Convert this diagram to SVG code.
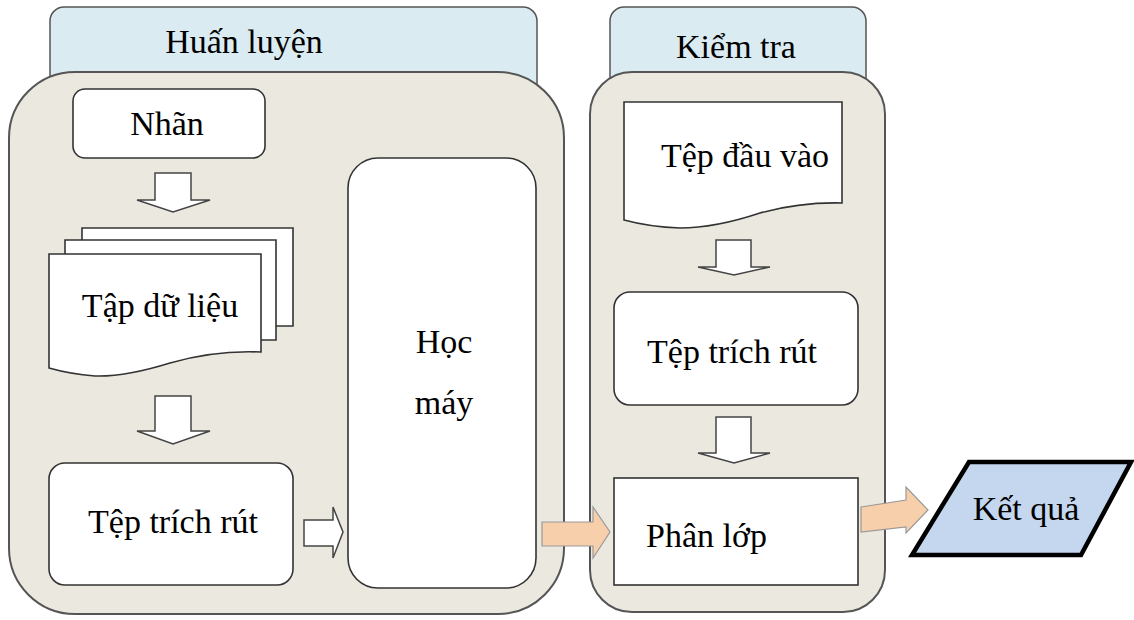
<svg xmlns="http://www.w3.org/2000/svg" width="1134" height="620" viewBox="0 0 1134 620">
<style>
.hdr{fill:#daecf2;stroke:#555;stroke-width:1.5}
.cont{fill:#ebe9df;stroke:#555;stroke-width:2}
.box{fill:#fff;stroke:#333;stroke-width:1.6}
.harrow{fill:#fff;stroke:#444;stroke-width:1.5;stroke-linejoin:miter}
.parrow{fill:#f8cfab;stroke:#999;stroke-width:1.2}
.t{font-family:'Liberation Serif','Times New Roman',Times,'DejaVu Serif',serif;font-size:34px;fill:#000}
.c{text-anchor:middle}
</style>
<rect width="1134" height="620" fill="#fff"/>
<g id="huan-luyen">
<rect class="hdr" x="50" y="7" width="487" height="110" rx="14"/>
<rect class="cont" x="9" y="72" width="555" height="542" rx="66"/>
<text class="t c" x="244" y="53" font-family="Liberation Serif, serif">Huấn luyện</text>
</g>
<g id="kiem-tra">
<rect class="hdr" x="610" y="7" width="256" height="110" rx="14"/>
<rect class="cont" x="590" y="72" width="295" height="540" rx="42"/>
<text class="t c" x="736" y="58" font-family="Liberation Serif, serif">Kiểm tra</text>
</g>
<g id="nhan">
<rect class="box" x="73" y="89" width="192" height="69" rx="12"/>
<text class="t c" x="167" y="135" font-family="Liberation Serif, serif">Nhãn</text>
</g>
<g id="tap-du-lieu">
<path class="box" d="M82,228 H293 V326 H82 Z"/>
<path class="box" d="M65,240 H276 V340 H65 Z"/>
<path class="box" d="M49,254 H261 V352 Q215,350 170,363 Q125,377 95,376 Q70,374 49,368 Z"/>
<text class="t c" x="160" y="317" font-family="Liberation Serif, serif">Tập dữ liệu</text>
</g>
<g id="tep-trich-rut-1">
<rect class="box" x="49" y="463" width="244" height="122" rx="16"/>
<text class="t c" x="173" y="533" font-family="Liberation Serif, serif">Tệp trích rút</text>
</g>
<g id="hoc-may">
<rect class="box" x="348" y="158" width="188" height="430" rx="30"/>
<text class="t c" x="444" y="353" font-family="Liberation Serif, serif">Học</text>
<text class="t c" x="444" y="414" font-family="Liberation Serif, serif">máy</text>
</g>
<g id="tep-dau-vao">
<path class="box" d="M624,102 H842 V203 Q800,202 760,213 Q715,228 680,228 Q650,227 624,220 Z"/>
<text class="t c" x="745" y="167" font-family="Liberation Serif, serif">Tệp đầu vào</text>
</g>
<g id="tep-trich-rut-2">
<rect class="box" x="614" y="292" width="244" height="113" rx="16"/>
<text class="t c" x="732" y="363" font-family="Liberation Serif, serif">Tệp trích rút</text>
</g>
<g id="phan-lop">
<rect class="box" x="614" y="478" width="244" height="107"/>
<text class="t" x="646" y="547" font-family="Liberation Serif, serif">Phân lớp</text>
</g>
<g id="ket-qua">
<polygon points="969,462 1131,462 1081,555 912,555" fill="#c5d7ee" stroke="#000" stroke-width="4.5" stroke-linejoin="miter"/>
<text class="t c" x="1026" y="520" font-family="Liberation Serif, serif">Kết quả</text>
</g>
<g id="connectors">
<polygon class="harrow" points="155,173 191,173 191,200 210,200 173,212 137,200 155,200"/>
<polygon class="harrow" points="155,396 191,396 191,431 210,431 173,444 137,431 155,431"/>
<polygon class="harrow" points="716,240 751,240 751,267 770,267 734,275 698,267 716,267"/>
<polygon class="harrow" points="716,417 751,417 751,453 770,453 734,463 698,453 716,453"/>
<polygon class="harrow" points="304,520 333,520 333,507 343,532 333,558 333,546 304,546"/>
<polygon class="parrow" points="542,522 593,522 593,507 610,532 593,558 593,546 542,546"/>
<polygon class="parrow" points="861,507 906,500 906,487 928,510 906,533 906,527 861,532"/>
</g>
</svg>
